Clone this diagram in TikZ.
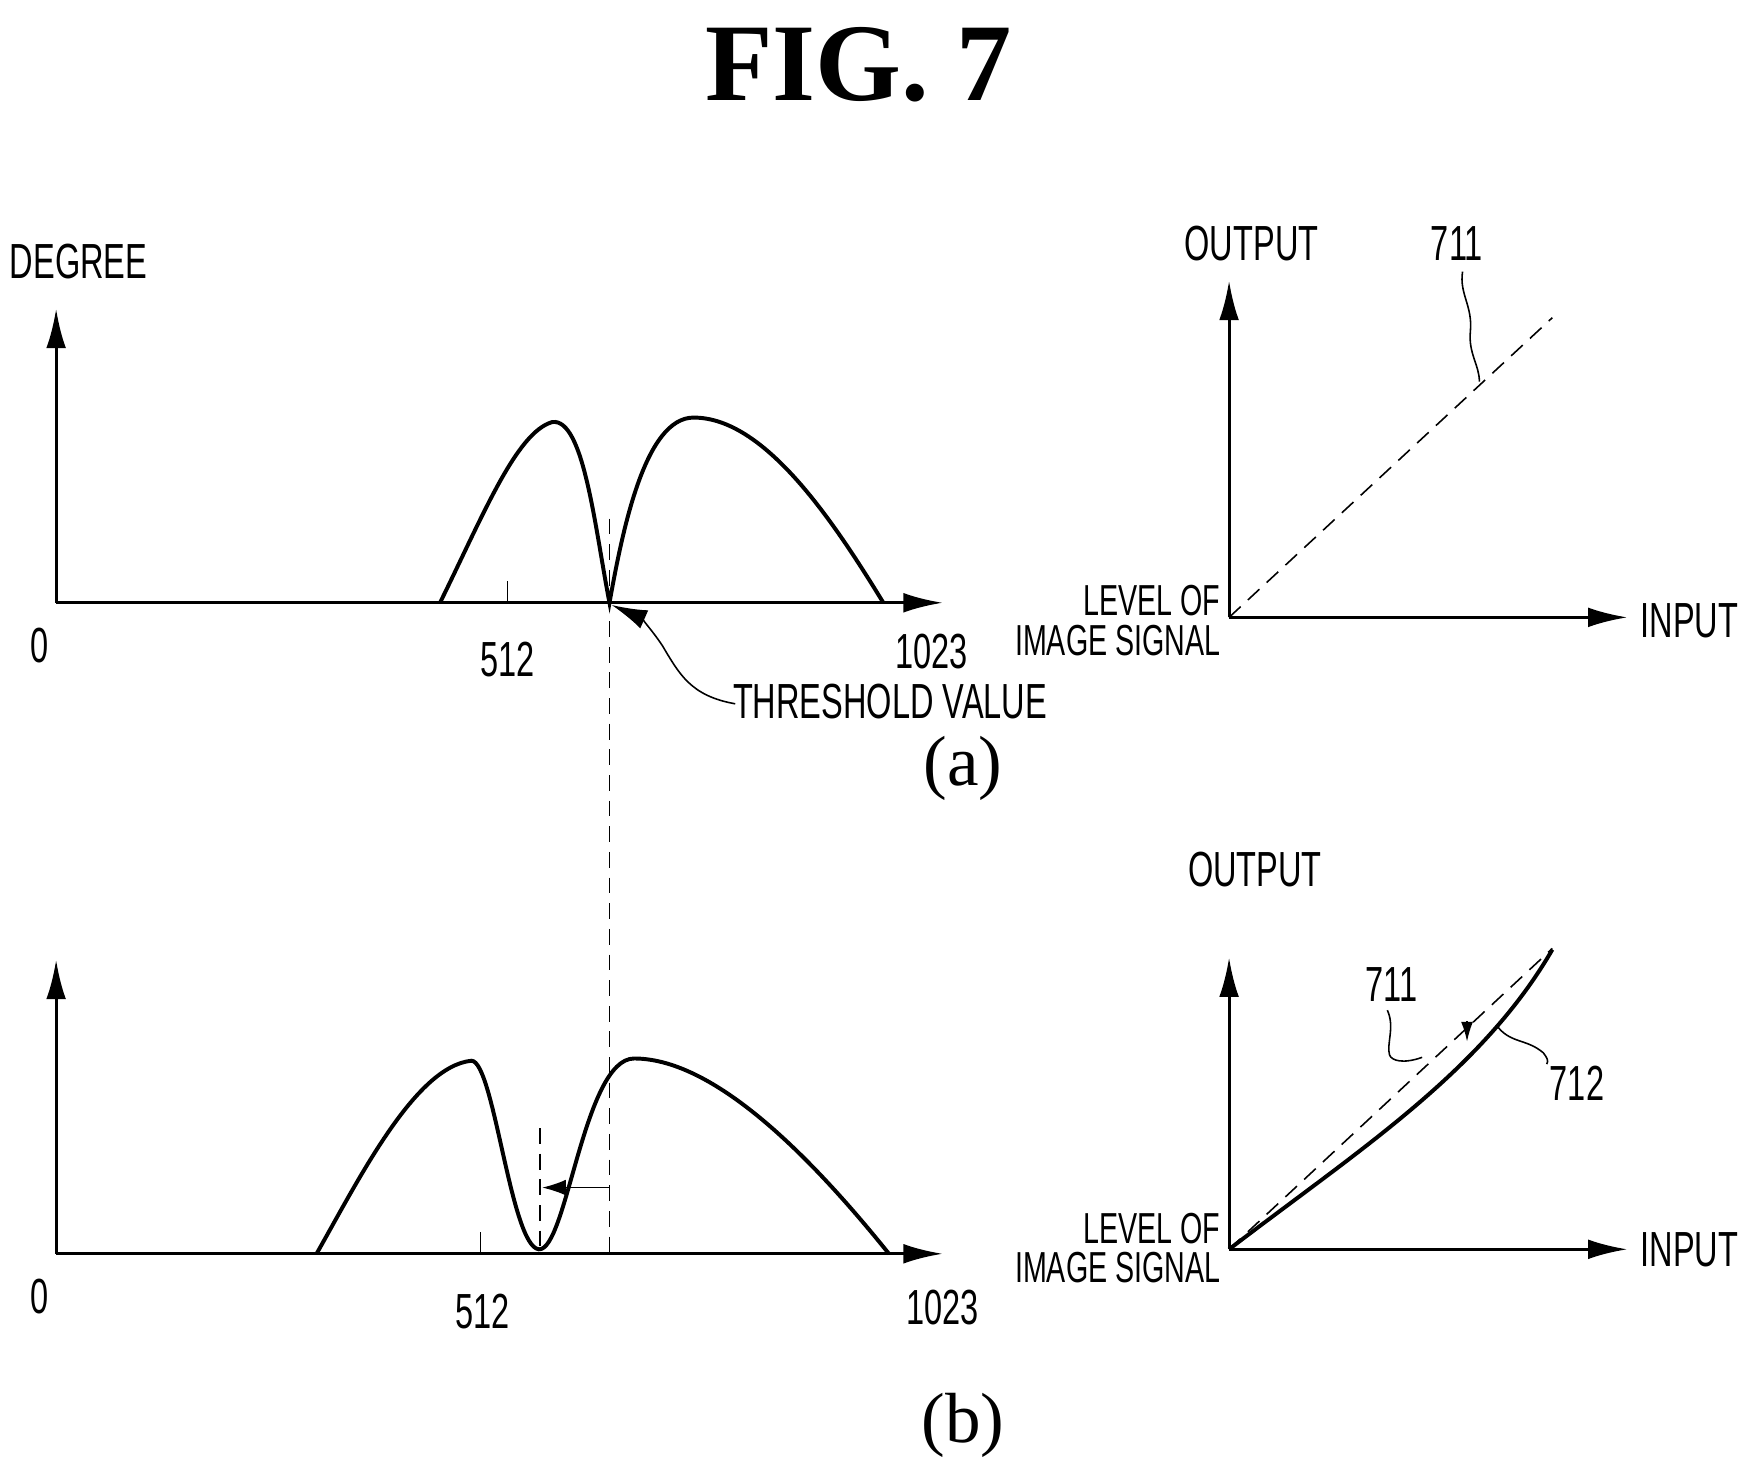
\documentclass[tikz,border=0pt]{standalone}
\usepackage{fontspec}
\usepackage{graphicx}
\setmainfont{Liberation Serif}
\newfontfamily\lab{Liberation Sans}
\newcommand\nt[1]{\scalebox{0.66}[1]{#1}}
\usetikzlibrary{arrows.meta}
\begin{document}
\begin{tikzpicture}[x=0.1mm,y=-0.1mm,
  ax/.style={line width=0.8pt,-{Latex[length=10pt,width=5pt]}},
  crv/.style={line width=1.0pt},
  dsh/.style={dashed,line width=0.4pt,dash pattern=on 4pt off 2.5pt},
  lbl/.style={font=\lab\fontsize{12.5}{15}\selectfont,inner sep=0pt},
  lbls/.style={font=\lab\fontsize{11}{12}\selectfont,inner sep=0pt,align=right},
  thin/.style={line width=0.4pt}]
\useasboundingbox (0,0) rectangle (1560,1305);
\node[font=\fontsize{28}{32}\selectfont\bfseries] (fig) at (765,58) {FIG. 7};
% ---------- (a) left
\coordinate (o1) at (50,537);
\coordinate (y1) at (50,275);
\coordinate (x1) at (840,537);
\draw[ax] (o1) -- (y1);
\draw[ax] (o1) -- (x1);
\node[lbl] (deg) at (70,233) {\nt{DEGREE}};
\node[lbl] (z1) at (35,575) {\nt{0}};
\node[lbl] (f1) at (452,588) {\nt{512}};
\node[lbl] (t1) at (830,580) {\nt{1023}};
\draw[thin] (452,537) -- (452,518);
\draw[crv] (392,537) .. controls (430,460) and (460,385) .. (492,376)
  .. controls (520,372) and (530,470) .. (543,537)
  .. controls (555,470) and (575,372) .. (618,372)
  .. controls (680,372) and (740,460) .. (787,537);
\coordinate (th1) at (543,462);
\coordinate (th2) at (543,1117);
\draw[dsh] (th1) -- (th2);
\node[lbl] (thr) at (793,625) {\nt{THRESHOLD VALUE}};
\coordinate (tip) at (545,539);
\draw[thin,-{Latex[length=9pt,width=5pt]}] (655,627) .. controls (615,620) and (605,600) .. (590,575) .. controls (580,560) and (570,550) .. (tip);
\node[font=\fontsize{18}{22}\selectfont] (a) at (858,685) {(a)};
% ---------- (a) right
\coordinate (o2) at (1095,550);
\draw[ax] (o2) -- (1095,250);
\draw[ax] (o2) -- (1450,550);
\node[lbl] (out1) at (1115,217) {\nt{OUTPUT}};
\node[lbl] (n711a) at (1298,217) {\nt{711}};
\node[lbl] (in1) at (1505,553) {\nt{INPUT}};
\node[lbls,anchor=east] (lv1) at (1088,553) {\nt{LEVEL OF}\\[-2pt]\nt{IMAGE SIGNAL}};
\coordinate (d1) at (1383,283);
\draw[dsh] (o2) -- (d1);
\draw[thin] (1303,242) .. controls (1300,262) and (1312,272) .. (1310,295) .. controls (1308,315) and (1318,325) .. (1318,340);
% ---------- (b) left
\coordinate (o3) at (50,1117);
\draw[ax] (o3) -- (50,855);
\draw[ax] (o3) -- (840,1117);
\node[lbl] (z2) at (35,1155) {\nt{0}};
\node[lbl] (f2) at (430,1168) {\nt{512}};
\node[lbl] (t2) at (840,1165) {\nt{1023}};
\draw[thin] (428,1117) -- (428,1098);
\draw[crv] (282,1117) .. controls (320,1050) and (370,950) .. (420,945)
  .. controls (440,945) and (455,1110) .. (480,1113)
  .. controls (505,1115) and (520,943) .. (565,943)
  .. controls (640,943) and (730,1040) .. (792,1117);
\draw[dsh] (481,1005) -- (481,1113);
\draw[thin,-{Latex[length=6pt,width=4pt]}] (543,1058) -- (483,1058);
\node[font=\fontsize{18}{22}\selectfont] (b) at (858,1270) {(b)};
% ---------- (b) right
\coordinate (o4) at (1095,1113);
\draw[ax] (o4) -- (1095,853);
\draw[ax] (o4) -- (1450,1113);
\node[lbl] (out2) at (1118,775) {\nt{OUTPUT}};
\node[lbl] (in2) at (1505,1113) {\nt{INPUT}};
\node[lbls,anchor=east] (lv2) at (1088,1112) {\nt{LEVEL OF}\\[-2pt]\nt{IMAGE SIGNAL}};
\draw[dsh] (o4) -- (1383,845);
\draw[crv] (o4) .. controls (1210,1025) and (1320,955) .. (1383,846);
\node[lbl] (n711b) at (1240,877) {\nt{711}};
\node[lbl] (n712) at (1405,965) {\nt{712}};
\draw[thin] (1236,900) .. controls (1243,915) and (1235,930) .. (1238,940) .. controls (1240,945) and (1250,948) .. (1267,942);
\draw[thin] (1333,913) .. controls (1345,930) and (1360,925) .. (1375,938) .. controls (1378,942) and (1380,945) .. (1378,948);
\draw[thin,-{Latex[length=5pt,width=3pt]}] (1307,910) -- (1307,928);
\end{tikzpicture}
\end{document}
